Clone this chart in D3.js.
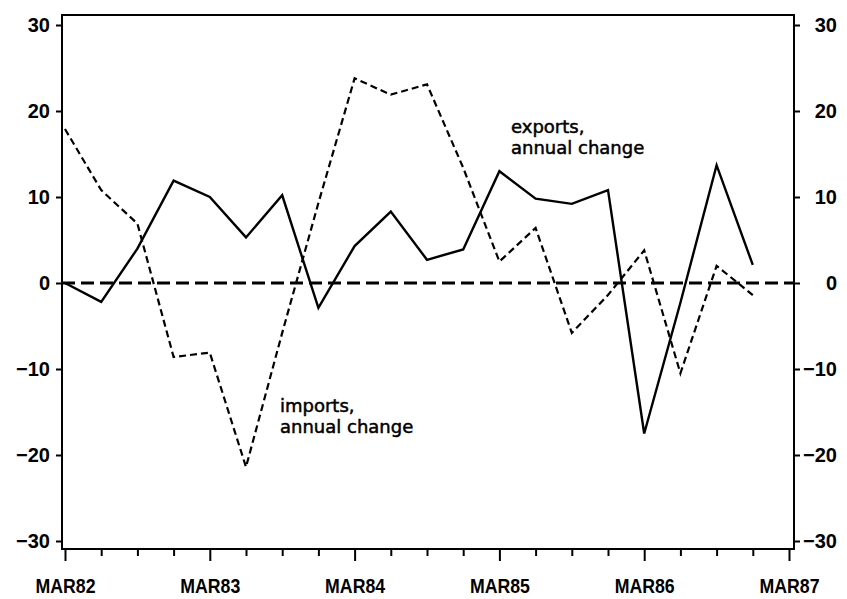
<!DOCTYPE html>
<html>
<head>
<meta charset="utf-8">
<script src="https://cdn.jsdelivr.net/npm/d3@7"></script>
<style>
  html, body { margin: 0; padding: 0; background: #fff; }
  svg { display: block; }
</style>
</head>
<body>
<svg id="chart" width="847" height="599"></svg>
<script>
// quarterly positions MAR82 ... MAR87
const quarters = ["1982Q1","1982Q2","1982Q3","1982Q4","1983Q1","1983Q2","1983Q3","1983Q4",
  "1984Q1","1984Q2","1984Q3","1984Q4","1985Q1","1985Q2","1985Q3","1985Q4",
  "1986Q1","1986Q2","1986Q3","1986Q4","1987Q1"];
const tickLabels = {"1982Q1":"MAR82","1983Q1":"MAR83","1984Q1":"MAR84","1985Q1":"MAR85","1986Q1":"MAR86","1987Q1":"MAR87"};
const yTicks = [-30, -20, -10, 0, 10, 20, 30];

// exports, annual change (solid)
const exportsChange = [0, -2.2, 4.0, 11.9, 10.0, 5.3, 10.2, -2.9, 4.3, 8.3, 2.7, 3.9,
  13.0, 9.8, 9.2, 10.8, -17.5, -2.3, 13.7, 2.1];
// imports, annual change (dashed)
const importsChange = [17.9, 10.8, 6.9, -8.6, -8.1, -21.4, -5.8, 9.3, 23.8, 21.9, 23.1, 13.4,
  2.5, 6.4, -5.8, -1.4, 3.8, -10.5, 2.0, -1.4];

const svg = d3.select("#chart");
const frame = {left: 62, right: 794, top: 15, bottom: 549};

const x = d3.scalePoint().domain(quarters).range([65, 789]).padding(0);
const y = d3.scaleLinear().domain([-30, 30]).range([541, 25]);

// frame
svg.append("rect")
  .attr("x", frame.left).attr("y", frame.top)
  .attr("width", frame.right - frame.left).attr("height", frame.bottom - frame.top)
  .attr("fill", "none").attr("stroke", "#000").attr("stroke-width", 2);

// zero reference line
svg.append("line")
  .attr("x1", frame.left).attr("x2", frame.right)
  .attr("y1", y(0)).attr("y2", y(0))
  .attr("stroke", "#000").attr("stroke-width", 3)
  .attr("stroke-dasharray", "13,6");

const tickFont = "Liberation Sans, Arial, Helvetica, sans-serif";

// bottom axis: minor ticks
const minorAxis = svg.append("g")
  .attr("transform", `translate(0,${frame.bottom})`)
  .call(d3.axisBottom(x).tickValues(quarters.filter(q => !tickLabels[q])).tickSize(7).tickFormat(""));
// bottom axis: major ticks + labels
const majorAxis = svg.append("g")
  .attr("transform", `translate(0,${frame.bottom})`)
  .call(d3.axisBottom(x).tickValues(Object.keys(tickLabels)).tickSize(12).tickPadding(18)
    .tickFormat(d => tickLabels[d]));
[minorAxis, majorAxis].forEach(g => {
  g.select(".domain").remove();
  g.selectAll(".tick line").attr("stroke", "#000").attr("stroke-width", 2);
});
majorAxis.selectAll("text")
  .attr("font-family", tickFont).attr("font-weight", "bold").attr("font-size", 20)
  .attr("fill", "#000")
  .attr("textLength", 60).attr("lengthAdjust", "spacingAndGlyphs");

const fmt = d => (d < 0 ? "\u2212" + Math.abs(d) : String(d));

// left axis
const leftAxis = svg.append("g")
  .attr("transform", `translate(${frame.left},0)`)
  .call(d3.axisLeft(y).tickValues(yTicks).tickSize(6).tickPadding(6).tickFormat(fmt));
// right axis
const rightAxis = svg.append("g")
  .attr("transform", `translate(${frame.right},0)`)
  .call(d3.axisRight(y).tickValues(yTicks).tickSize(6).tickPadding(6).tickFormat(fmt));
[leftAxis, rightAxis].forEach(g => {
  g.select(".domain").remove();
  g.selectAll(".tick line").attr("stroke", "#000").attr("stroke-width", 2);
  g.selectAll("text")
    .attr("font-family", tickFont).attr("font-weight", "bold").attr("font-size", 20)
    .attr("fill", "#000");
});
rightAxis.selectAll("text").attr("text-anchor", "end").attr("x", 43);

// lines
const line = (vals) => d3.line()
  .x((d, i) => x(quarters[i]))
  .y(d => y(d))(vals);

svg.append("path")
  .attr("d", line(importsChange))
  .attr("fill", "none").attr("stroke", "#000").attr("stroke-width", 2.2)
  .attr("stroke-dasharray", "7,4");

svg.append("path")
  .attr("d", line(exportsChange))
  .attr("fill", "none").attr("stroke", "#000").attr("stroke-width", 2.4)
  .attr("stroke-linejoin", "miter");

// series labels
const labelFont = "DejaVu Sans, Verdana, sans-serif";
function seriesLabel(lines, xPos, yBase) {
  const t = svg.append("text")
    .attr("font-family", labelFont).attr("font-size", 18).attr("fill", "#000")
    .attr("stroke", "#000").attr("stroke-width", 0.5);
  lines.forEach((s, i) => {
    t.append("tspan").attr("x", xPos).attr("y", yBase + i * 21).text(s);
  });
}
seriesLabel(["exports,", "annual change"], 511, 133);
seriesLabel(["imports,", "annual change"], 280, 412);
</script>
</body>
</html>
